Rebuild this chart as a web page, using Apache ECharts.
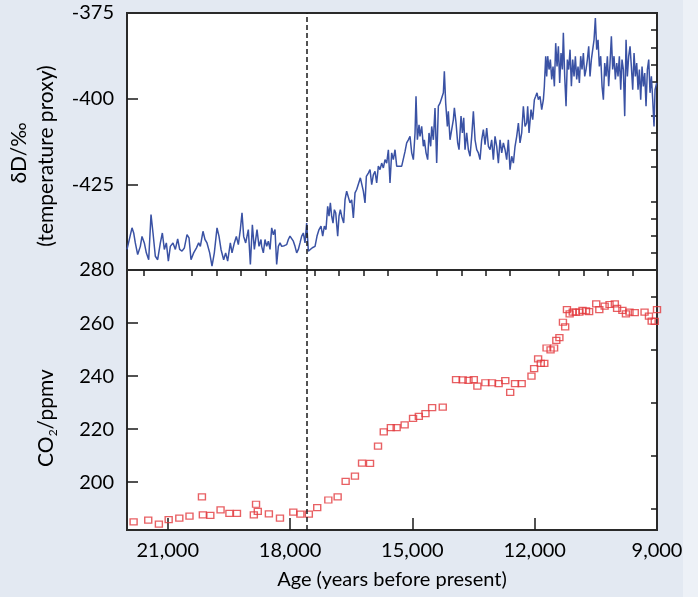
<!DOCTYPE html>
<html><head><meta charset="utf-8">
<script src="https://cdn.jsdelivr.net/npm/echarts@6/dist/echarts.min.js"></script>
<style>html,body{margin:0;padding:0;background:#e3e9f2;} #c{width:698px;height:597px;}</style>
</head><body><div id="c"></div>
<script>
// δD record (age in years before present, δD in ‰)
const dDAge = [
22000,21877,21836,21796,21738,21673,21632,21575,21526,21468,21411,21362,21305,21248,21182,21133,21084,21035,20986,20937,
20872,20814,20757,20708,20651,20594,20528,20479,20430,20365,20299,20242,20201,20136,20087,20038,19972,19915,19858,19792,
19743,19694,19629,19580,19531,19465,19424,19367,19318,19269,19220,19179,19138,19089,19024,18974,18925,18876,18811,18762,18713,
18697,18656,18615,18574,18533,18492,18451,18410,18370,18329,18288,18247,18206,18141,18083,18043,18002,17961,17920,17879,
17838,17797,17756,17715,17675,17634,17593,17552,17511,17454,17388,17339,17290,17241,17200,17159,17119,17078,17045,17012,
16980,16947,16914,16881,16832,16800,16767,16734,16685,16652,16612,16571,16530,16489,16448,16407,16366,16325,16276,16244,
16203,16162,16129,16080,16039,15998,15957,15917,15876,15835,15794,15753,15712,15671,
15630,15589,15549,15508,15467,15426,15385,15344,15262,15221,15180,15140,15099,15058,15017,14976,14935,14911,14878,14837,
14813,14772,14731,14706,14665,14625,14592,14551,14526,14485,14445,14404,14363,14322,14281,14240,14216,14183,14142,14118,
14077,14036,13995,13970,13929,13889,13856,13807,13774,13741,13709,13668,13627,13586,13545,13504,13463,13422,13382,13341,
13300,13259,13218,13177,13136,13095,13055,13014,12973,12932,12891,12850,12809,12768,12727,12687,12646,12605,12564,12523,
12482,12441,12400,12360,12319,12278,12237,
12196,12172,12139,12090,12049,12008,11975,11943,11910,11869,11828,11787,11763,11730,11706,11681,11648,11616,11583,11550,
11517,11485,11452,11419,11387,11354,11321,11297,11264,11231,11199,11166,11133,11100,11068,11035,11002,10970,10937,10904,
10872,10839,10806,10773,10741,10708,10675,10643,10610,10577,10544,10512,10479,10446,10414,10381,10348,10315,10283,10250,
10217,10185,10152,10119,10087,10054,10021,9988,9956,9923,9890,9858,9825,9792,9759,9727,9694,9661,9629,9596,
9563,9531,9498,9465,9432,9400,9367,9334,9301,9269,9236,9203,9171,9138,9105,9073,9048,9007
];
const dDValue = [
-444.0,-437.7,-439.2,-442.1,-445.5,-443.1,-440.2,-442.1,-445.0,-447.0,-433.8,-439.2,-446.0,-447.0,-442.1,-439.2,-444.0,-442.1,-447.4,-443.1,
-442.1,-444.0,-440.9,-444.0,-444.5,-443.6,-439.7,-440.6,-447.0,-445.0,-443.6,-442.1,-443.1,-438.7,-441.1,-442.1,-445.0,-448.9,-445.0,-437.7,
-440.2,-444.0,-447.0,-445.0,-447.4,-442.1,-445.0,-442.1,-440.2,-442.6,-438.2,-433.3,-440.2,-442.1,-438.2,-448.4,-436.8,-444.0,-438.2,-443.1,-441.1,
-443.1,-445.0,-441.1,-443.1,-441.6,-444.0,-437.7,-439.7,-438.2,-448.4,-443.1,-442.1,-443.1,-442.9,-442.6,-441.1,-440.1,-440.6,-441.6,-443.1,
-445.0,-444.0,-442.1,-440.1,-439.2,-442.1,-436.3,-444.5,-444.0,-443.5,-443.1,-440.1,-438.2,-437.2,-440.1,-437.2,-438.2,-431.4,-434.3,-430.4,
-434.3,-436.3,-432.4,-433.3,-440.1,-434.3,-432.4,-434.3,-436.3,-429.5,-427.0,-427.5,-430.4,-429.5,-434.8,-427.5,-426.5,-426.5,-423.1,-422.7,
-427.0,-430.4,-422.7,-421.7,-420.7,-425.1,-422.2,-421.2,-424.6,-419.7,-420.7,-418.8,-420.2,-417.8,
-418.8,-414.9,-424.6,-415.8,-417.8,-414.9,-419.7,-420.2,-419.7,-419.2,-415.4,-412.9,-412.0,-411.0,-415.8,-417.8,-410.0,-399.3,-412.0,-407.6,
-411.0,-408.1,-413.9,-412.0,-415.8,-417.8,-410.0,-413.9,-408.1,-412.0,-402.7,-418.8,-402.2,-401.3,-399.8,-398.3,-392.0,-401.3,-408.1,-403.7,
-412.0,-409.0,-406.1,-402.7,-407.1,-412.9,-414.9,-405.1,-410.0,-405.6,-414.9,-410.0,-414.9,-416.8,-411.0,-403.7,-412.0,-414.9,-415.8,-417.8,
-412.0,-409.0,-413.4,-408.6,-413.9,-414.9,-412.0,-417.8,-411.0,-413.9,-418.8,-412.0,-415.8,-412.9,-414.9,-417.8,-412.0,-420.7,-416.8,-418.8,
-413.9,-411.0,-407.1,-412.9,-410.0,-402.2,-408.1,
-407.1,-402.2,-410.0,-403.2,-406.1,-400.3,-399.3,-398.3,-400.3,-399.3,-403.2,-400.3,-396.4,-387.6,-393.5,-387.6,-391.5,-388.6,-394.4,-390.6,
-396.4,-383.8,-390.6,-384.7,-395.4,-386.7,-391.5,-380.8,-393.5,-402.2,-388.6,-391.5,-385.7,-396.4,-388.6,-393.5,-387.6,-394.4,-390.6,-395.4,
-387.6,-391.5,-386.7,-393.5,-391.5,-388.6,-384.7,-393.5,-388.6,-385.7,-382.8,-376.5,-385.7,-382.8,-390.6,-387.6,-396.4,-400.3,-389.6,-393.5,
-387.6,-396.4,-389.6,-381.8,-391.5,-387.6,-394.4,-389.6,-393.5,-387.6,-397.4,-388.6,-391.5,-405.1,-382.8,-393.5,-387.6,-384.7,-390.6,-397.4,
-386.7,-393.5,-389.6,-397.4,-391.5,-400.3,-390.6,-396.4,-392.5,-402.2,-391.5,-388.6,-398.3,-393.5,-400.3,-408.1,-397.4,-395.4
];
// CO2 record (age in years before present, CO2 in ppmv)
const co2Age = [
21838,21479,21218,20978,20717,20467,20162,20140,19956,19705,19488,19303,18889,18835,18792,18520,18248,17921,17747,17540,
17334,17062,16833,16637,16409,16235,16039,15843,15702,15528,15386,15190,14984,14842,14679,14516,14255,13929,13766,13624,
13493,13406,13210,13047,12884,12721,12601,12482,12319,12079,12014,11916,11851,11764,11709,11611,11524,11470,11394,11307,
11252,11209,11143,11067,10991,10904,10828,10741,10665,10491,10415,10284,10164,10034,9979,9849,9762,9675,9545,9305,
9197,9131,9055,9000
];
const co2Value = [
185.1,185.7,184.2,185.9,186.5,187.2,194.5,187.7,187.5,189.6,188.3,188.3,187.7,191.7,189.0,188.1,186.5,188.7,188.0,188.0,
190.4,193.3,194.5,200.3,202.3,207.2,207.1,213.6,219.0,220.6,220.6,221.6,224.1,224.8,225.9,228.1,228.3,238.7,238.6,238.4,
238.7,236.2,237.5,237.5,237.2,238.3,233.9,237.2,237.2,240.0,242.8,246.5,244.8,244.8,250.6,249.9,250.6,253.5,254.5,260.3,
258.6,265.1,263.5,264.1,264.1,264.1,264.8,264.6,264.3,267.2,265.1,266.4,267.0,267.2,265.5,264.8,263.5,264.1,263.9,264.1,
262.6,260.7,260.6,265.1
];
// ticks and labels
const xLabels = [21000, 18000, 15000, 12000, 9000];
const xMajorTicks = [21000, 18000, 15000, 12000];
const xMinorTicks = [21600, 20400, 19800, 19200, 18600, 17400, 16800, 16200, 15600, 14400, 13800, 13200, 12600, 11400, 10800, 10200, 9600];
const dDLabels = [-425, -400, -375];
const dDMajorTicks = [-425, -400];
const dDMinorTicks = [-445, -440, -435, -430, -420, -415, -410, -405, -395, -390, -385, -380];
const co2Labels = [200, 220, 240, 260, 280];
const co2MajorTicks = [200, 220, 240, 260];
const co2MinorTicks = [190, 210, 230, 250, 270];
const boundaryAge = 17600;

const FONT = 'Lato, "Open Sans", sans-serif';
const tickColor = '#1a1a1a';
function fmt(v){ return String(v).replace(/\B(?=(\d{3})+(?!\d))/g, ','); }

const chart = echarts.init(document.getElementById('c'), null, {renderer:'canvas'});
const gridBox = {left:127, right:41, show:true, backgroundColor:'#ffffff', borderColor:'#2a2a2a', borderWidth:2};
const hidden = {axisLine:{show:false}, splitLine:{show:false}};
chart.setOption({
  animation:false,
  backgroundColor:'#e3e9f2',
  grid:[
    Object.assign({top:13, height:257}, gridBox),
    Object.assign({top:270, height:260}, gridBox)
  ],
  xAxis:[
    Object.assign({gridIndex:0, type:'value', min:9000, max:22000, inverse:true, axisTick:{show:false}, axisLabel:{show:false}}, hidden),
    Object.assign({gridIndex:1, type:'value', min:9000, max:22000, inverse:true,
      name:'Age (years before present)', nameLocation:'middle', nameGap:40,
      nameTextStyle:{fontFamily:FONT, fontSize:20, color:'#000'},
      axisTick:{show:true, inside:true, length:12, customValues:xMajorTicks, lineStyle:{color:tickColor, width:1.5}},
      axisLabel:{show:true, customValues:xLabels, margin:11, fontFamily:FONT, fontSize:20, color:'#000', formatter:fmt}}, hidden),
    Object.assign({gridIndex:1, type:'value', min:9000, max:22000, inverse:true,
      axisTick:{show:true, inside:true, length:6, customValues:xMinorTicks, lineStyle:{color:tickColor, width:1.5}},
      axisLabel:{show:false}}, hidden)
  ],
  yAxis:[
    Object.assign({gridIndex:0, type:'value', min:-450, max:-375,
      axisTick:{show:true, inside:true, length:11, customValues:dDMajorTicks, lineStyle:{color:tickColor, width:1.5}},
      axisLabel:{show:true, customValues:dDLabels, margin:13, fontFamily:FONT, fontSize:20, color:'#000'}}, hidden),
    Object.assign({gridIndex:0, type:'value', min:-450, max:-375,
      axisTick:{show:true, inside:true, length:6, customValues:dDMinorTicks, lineStyle:{color:tickColor, width:1.5}},
      axisLabel:{show:false}}, hidden),
    Object.assign({gridIndex:1, type:'value', min:182, max:280,
      axisTick:{show:true, inside:true, length:11, customValues:co2MajorTicks, lineStyle:{color:tickColor, width:1.5}},
      axisLabel:{show:true, customValues:co2Labels, margin:13, fontFamily:FONT, fontSize:20, color:'#000'}}, hidden),
    Object.assign({gridIndex:1, type:'value', min:182, max:280,
      axisTick:{show:true, inside:true, length:6, customValues:co2MinorTicks, lineStyle:{color:tickColor, width:1.5}},
      axisLabel:{show:false}}, hidden)
  ],
  graphic:[
    {type:'rect', left:683, top:0, shape:{width:15, height:597}, style:{fill:'#edf1f7'}, z:-1, silent:true},
    {type:'text', x:19, y:153, rotation:Math.PI/2, style:{text:'δD/‰', x:0, y:0, align:'center', verticalAlign:'middle', font:'21px ' + FONT, fill:'#000'}},
    {type:'text', x:46, y:156, rotation:Math.PI/2, style:{text:'(temperature proxy)', x:0, y:0, align:'center', verticalAlign:'middle', font:'21px ' + FONT, fill:'#000'}},
    {type:'text', x:46, y:418, rotation:Math.PI/2, style:{text:'CO{sub|2}/ppmv', x:0, y:0, align:'center', verticalAlign:'middle', font:'21px ' + FONT, fill:'#000',
      rich:{sub:{fontSize:12, fontFamily:FONT, verticalAlign:'bottom', lineHeight:27, fill:'#000'}}}}
  ],
  series:[
    {type:'line', xAxisIndex:0, yAxisIndex:0, showSymbol:false, symbol:'none',
      data: dDAge.map((a,i)=>[a, dDValue[i]]),
      lineStyle:{color:'#3a52a4', width:1.5},
      markLine:{silent:true, symbol:'none', label:{show:false}, lineStyle:{type:[5,3], color:'#1a1a1a', width:1.5}, data:[{xAxis:boundaryAge}]}},
    {type:'scatter', xAxisIndex:1, yAxisIndex:2, symbol:'rect', symbolSize:[7,6],
      data: co2Age.map((a,i)=>[a, co2Value[i]]),
      itemStyle:{color:'rgba(0,0,0,0)', borderColor:'#e2383c', borderWidth:1.3},
      markLine:{silent:true, symbol:'none', label:{show:false}, lineStyle:{type:[5,3], color:'#1a1a1a', width:1.5}, data:[{xAxis:boundaryAge}]}}
  ]
});
</script></body></html>
